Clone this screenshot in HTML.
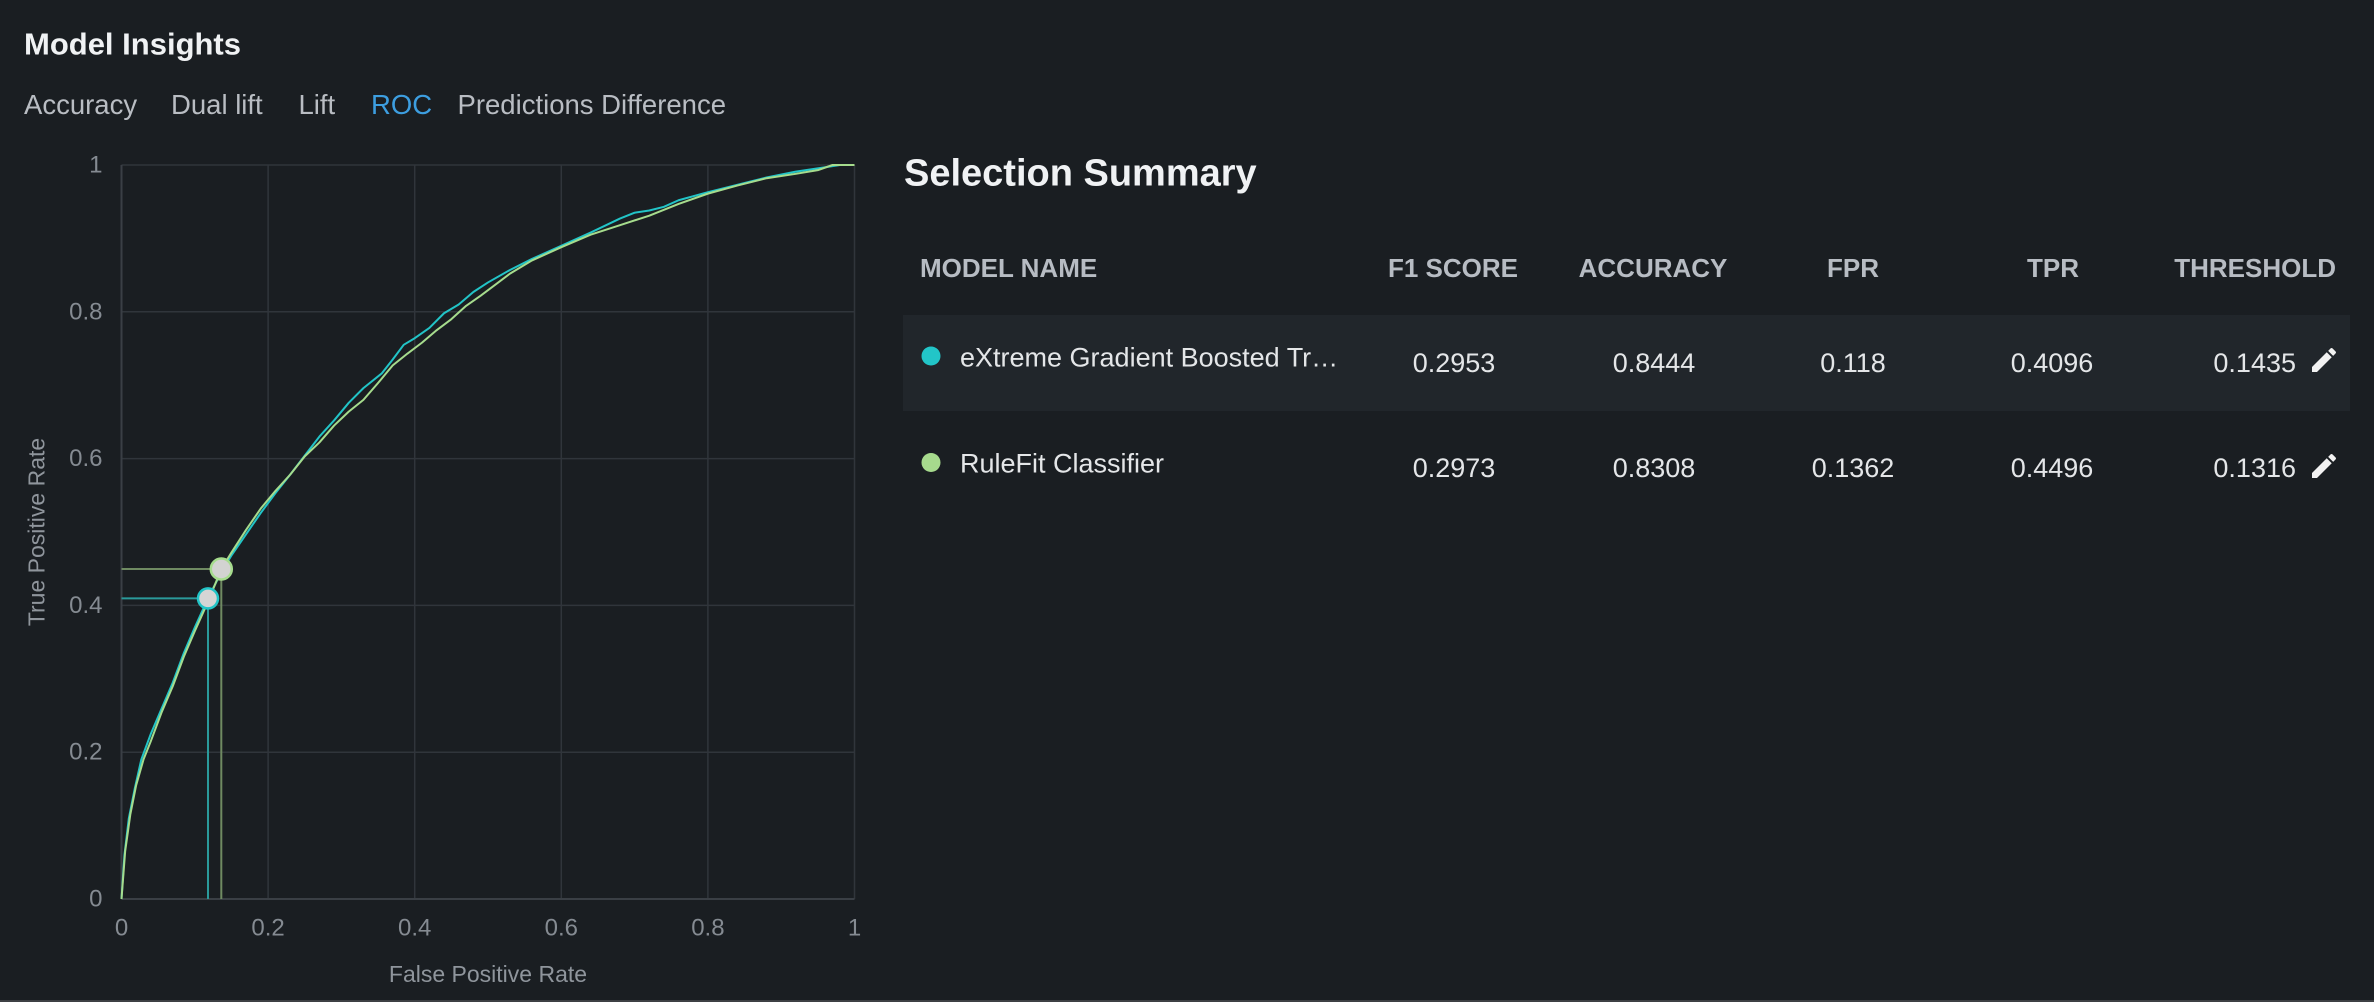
<!DOCTYPE html>
<html>
<head>
<meta charset="utf-8">
<style>
html,body{margin:0;padding:0;background:#1a1e22;}
body{width:2374px;height:1002px;overflow:hidden;}
svg{display:block;}
text{font-family:"Liberation Sans",sans-serif;}
</style>
</head>
<body>
<svg width="2374" height="1002" viewBox="0 0 2374 1002" xmlns="http://www.w3.org/2000/svg">
  <rect x="0" y="0" width="2374" height="1002" fill="#1a1e22"/>
  <rect x="0" y="1000" width="2374" height="2" fill="#3d4044"/>

  <!-- Header -->
  <text x="24" y="44" font-size="31" font-weight="bold" fill="#f0f2f4" dominant-baseline="central">Model Insights</text>
  <g font-size="27.5" fill="#b9bdc3" dominant-baseline="central">
    <text x="24" y="104.5">Accuracy</text>
    <text x="171" y="104.5">Dual lift</text>
    <text x="298.5" y="104.5">Lift</text>
    <text x="371" y="104.5" fill="#3d9ee0">ROC</text>
    <text x="457.5" y="104.5">Predictions Difference</text>
  </g>

  <!-- Grid -->
  <g stroke="#30353b" stroke-width="1.5" fill="none">
    <line x1="268.1" y1="165" x2="268.1" y2="899"/>
    <line x1="414.7" y1="165" x2="414.7" y2="899"/>
    <line x1="561.3" y1="165" x2="561.3" y2="899"/>
    <line x1="707.9" y1="165" x2="707.9" y2="899"/>
    <line x1="854.5" y1="165" x2="854.5" y2="899"/>
    <line x1="121.5" y1="165" x2="854.5" y2="165"/>
    <line x1="121.5" y1="311.8" x2="854.5" y2="311.8"/>
    <line x1="121.5" y1="458.6" x2="854.5" y2="458.6"/>
    <line x1="121.5" y1="605.4" x2="854.5" y2="605.4"/>
    <line x1="121.5" y1="752.2" x2="854.5" y2="752.2"/>
  </g>
  <g stroke="#3a3f45" stroke-width="2" fill="none">
    <line x1="121.5" y1="165" x2="121.5" y2="899"/>
    <line x1="121.5" y1="899" x2="854.5" y2="899"/>
  </g>

  <!-- Tick labels -->
  <g font-size="24" fill="#858b92" dominant-baseline="central" text-anchor="end">
    <text x="102.5" y="165">1</text>
    <text x="102.5" y="311.8">0.8</text>
    <text x="102.5" y="458.6">0.6</text>
    <text x="102.5" y="605.4">0.4</text>
    <text x="102.5" y="752.2">0.2</text>
    <text x="102.5" y="899">0</text>
  </g>
  <g font-size="24" fill="#858b92" dominant-baseline="central" text-anchor="middle">
    <text x="121.5" y="928">0</text>
    <text x="268.1" y="928">0.2</text>
    <text x="414.7" y="928">0.4</text>
    <text x="561.3" y="928">0.6</text>
    <text x="707.9" y="928">0.8</text>
    <text x="854.5" y="928">1</text>
  </g>
  <text x="488" y="974" font-size="23" fill="#8f959c" dominant-baseline="central" text-anchor="middle">False Positive Rate</text>
  <text x="0" y="0" font-size="23" fill="#8f959c" dominant-baseline="central" text-anchor="middle" transform="translate(36.5 532) rotate(-90)">True Positive Rate</text>

  <!-- Crosshair lines -->
  <g stroke-width="2" fill="none">
    <line x1="121.5" y1="598.4" x2="208" y2="598.4" stroke="#2a9a9b"/>
    <line x1="208" y1="598.4" x2="208" y2="899" stroke="#2a9a9b"/>
    <line x1="121.5" y1="569" x2="221.3" y2="569" stroke="#6f8a62"/>
    <line x1="221.3" y1="569" x2="221.3" y2="899" stroke="#6f8a62"/>
  </g>

  <!-- ROC curves -->
  <g transform="translate(121.5 899) scale(733 -734)" fill="none" stroke-linejoin="round">
    <polyline vector-effect="non-scaling-stroke" stroke="#22c4c7" stroke-width="2"
      points="0,0 0.004,0.06 0.01,0.11 0.018,0.15 0.027,0.19 0.04,0.225 0.055,0.26 0.07,0.295 0.085,0.335 0.1,0.37 0.118,0.4096 0.136,0.445 0.15,0.468 0.17,0.497 0.19,0.526 0.21,0.553 0.23,0.578 0.25,0.604 0.27,0.63 0.29,0.652 0.31,0.676 0.33,0.696 0.355,0.716 0.37,0.735 0.385,0.755 0.4,0.764 0.42,0.778 0.44,0.798 0.46,0.81 0.48,0.827 0.5,0.84 0.53,0.857 0.56,0.872 0.6,0.89 0.64,0.908 0.68,0.927 0.7,0.935 0.72,0.938 0.74,0.943 0.76,0.952 0.8,0.963 0.84,0.973 0.88,0.983 0.92,0.991 0.96,0.997 0.98,1 1,1"/>
    <polyline vector-effect="non-scaling-stroke" stroke="#a6dc8d" stroke-width="2"
      points="0,0 0.005,0.065 0.012,0.115 0.02,0.155 0.03,0.19 0.04,0.215 0.055,0.255 0.07,0.29 0.085,0.33 0.1,0.365 0.118,0.405 0.1362,0.4496 0.15,0.472 0.17,0.503 0.19,0.532 0.21,0.556 0.23,0.578 0.25,0.603 0.27,0.622 0.29,0.645 0.31,0.664 0.33,0.68 0.35,0.703 0.37,0.727 0.39,0.743 0.41,0.758 0.43,0.775 0.45,0.79 0.47,0.808 0.49,0.822 0.51,0.837 0.53,0.852 0.56,0.87 0.6,0.888 0.64,0.905 0.68,0.918 0.72,0.931 0.76,0.947 0.8,0.961 0.84,0.972 0.88,0.982 0.92,0.988 0.95,0.993 0.97,1 1,1"/>
  </g>

  <!-- Threshold markers -->
  <circle cx="208" cy="598.4" r="10" fill="#d5d5d5" stroke="#22c4c7" stroke-width="2.5"/>
  <circle cx="221.3" cy="569" r="10.5" fill="#d3d3d1" stroke="#a6dc8d" stroke-width="2.5"/>

  <!-- Selection Summary -->
  <text x="904" y="173.5" font-size="38" font-weight="bold" fill="#f0f2f4" dominant-baseline="central">Selection Summary</text>

  <g font-size="26" font-weight="bold" fill="#b7bcc3" dominant-baseline="central">
    <text x="920" y="268">MODEL NAME</text>
    <text x="1453" y="268" text-anchor="middle">F1 SCORE</text>
    <text x="1653" y="268" text-anchor="middle">ACCURACY</text>
    <text x="1853" y="268" text-anchor="middle">FPR</text>
    <text x="2053" y="268" text-anchor="middle">TPR</text>
    <text x="2336" y="268" text-anchor="end">THRESHOLD</text>
  </g>

  <rect x="903" y="315" width="1447" height="96" fill="#21262b"/>

  <!-- Row 1 -->
  <circle cx="931" cy="356" r="9.5" fill="#22c5c8"/>
  <g font-size="27" fill="#e4e6e8" dominant-baseline="central">
    <text x="960" y="357.5">eXtreme Gradient Boosted Tr…</text>
    <text x="1454" y="363" text-anchor="middle">0.2953</text>
    <text x="1654" y="363" text-anchor="middle">0.8444</text>
    <text x="1853" y="363" text-anchor="middle">0.118</text>
    <text x="2052" y="363" text-anchor="middle">0.4096</text>
    <text x="2296" y="363" text-anchor="end">0.1435</text>
  </g>
  <path transform="translate(2308 344) scale(1.333)" fill="#f2f2f2" d="M3 17.25V21h3.75L17.81 9.94l-3.75-3.75L3 17.25zM20.71 7.04c.39-.39.39-1.02 0-1.41l-2.34-2.34c-.39-.39-1.02-.39-1.41 0l-1.83 1.83 3.75 3.75 1.83-1.83z"/>

  <!-- Row 2 -->
  <circle cx="931" cy="462.5" r="9.5" fill="#a6da8d"/>
  <g font-size="27" fill="#e4e6e8" dominant-baseline="central">
    <text x="960" y="463.5">RuleFit Classifier</text>
    <text x="1454" y="468" text-anchor="middle">0.2973</text>
    <text x="1654" y="468" text-anchor="middle">0.8308</text>
    <text x="1853" y="468" text-anchor="middle">0.1362</text>
    <text x="2052" y="468" text-anchor="middle">0.4496</text>
    <text x="2296" y="468" text-anchor="end">0.1316</text>
  </g>
  <path transform="translate(2308 450) scale(1.333)" fill="#f2f2f2" d="M3 17.25V21h3.75L17.81 9.94l-3.75-3.75L3 17.25zM20.71 7.04c.39-.39.39-1.02 0-1.41l-2.34-2.34c-.39-.39-1.02-.39-1.41 0l-1.83 1.83 3.75 3.75 1.83-1.83z"/>
</svg>
</body>
</html>
